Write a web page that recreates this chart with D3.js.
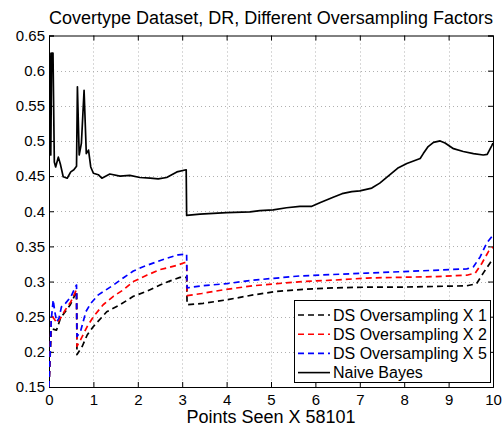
<!DOCTYPE html>
<html><head><meta charset="utf-8">
<script src="https://cdn.jsdelivr.net/npm/d3@7"></script>
<style>body{margin:0;background:#fff;} text{font-family:"Liberation Sans",Arial,Helvetica,sans-serif;}</style>
</head><body>
<svg id="c" width="504" height="429"></svg>
<script>
const title = "Covertype Dataset, DR, Different Oversampling Factors";
const xLabel = "Points Seen X 58101";
const xTicks = [0,1,2,3,4,5,6,7,8,9,10];
const yTicks = [0.15,0.2,0.25,0.3,0.35,0.4,0.45,0.5,0.55,0.6,0.65];
const seriesNames = ["DS Oversampling X 1","DS Oversampling X 2","DS Oversampling X 5","Naive Bayes"];
const seriesColors = ["#000000","#ff0000","#0000ff","#000000"];

const ds1 = [[0,0.15],[0.05,0.233],[0.17,0.231],[0.26,0.248],[0.48,0.267],[0.6,0.283],[0.62,0.286],[0.63,0.196],[0.75,0.208],[0.86,0.224],[1.0,0.236],[1.3,0.257],[1.6,0.267],[1.9,0.279],[2.2,0.286],[2.5,0.295],[2.73,0.301],[2.95,0.306],[3.1,0.306],[3.11,0.267],[3.47,0.269],[4.0,0.274],[4.6,0.281],[5.13,0.286],[5.73,0.289],[6.4,0.291],[7.16,0.292],[7.9,0.292],[8.66,0.293],[9.41,0.294],[9.63,0.297],[9.78,0.312],[9.93,0.326],[10.0,0.333]];
const ds2 = [[0,0.15],[0.05,0.245],[0.08,0.25],[0.18,0.241],[0.26,0.248],[0.37,0.26],[0.49,0.271],[0.6,0.286],[0.62,0.288],[0.63,0.208],[0.71,0.217],[0.86,0.236],[1.0,0.25],[1.22,0.267],[1.45,0.279],[1.67,0.288],[1.9,0.3],[2.2,0.309],[2.5,0.317],[2.88,0.323],[3.06,0.327],[3.1,0.327],[3.11,0.28],[3.44,0.283],[4.0,0.289],[4.6,0.294],[5.13,0.297],[5.73,0.3],[6.4,0.302],[7.16,0.305],[7.9,0.306],[8.66,0.307],[9.41,0.309],[9.6,0.312],[9.75,0.326],[9.9,0.343],[10.0,0.349]];
const ds5 = [[0,0.15],[0.05,0.245],[0.095,0.274],[0.13,0.257],[0.175,0.243],[0.225,0.248],[0.28,0.264],[0.37,0.269],[0.49,0.278],[0.6,0.293],[0.62,0.295],[0.63,0.222],[0.71,0.229],[0.83,0.257],[0.94,0.269],[1.11,0.281],[1.45,0.295],[1.67,0.305],[1.9,0.315],[2.12,0.321],[2.42,0.328],[2.65,0.333],[2.91,0.338],[3.1,0.339],[3.11,0.291],[3.44,0.294],[4.0,0.297],[4.6,0.302],[5.13,0.305],[5.65,0.308],[6.4,0.31],[7.16,0.312],[7.9,0.314],[8.66,0.316],[9.41,0.318],[9.56,0.321],[9.71,0.335],[9.86,0.355],[10.0,0.366]];
const naive = [[0,0.47],[0.02,0.625],[0.04,0.48],[0.06,0.625],[0.09,0.625],[0.12,0.47],[0.15,0.463],[0.21,0.477],[0.26,0.466],[0.32,0.449],[0.41,0.447],[0.49,0.456],[0.56,0.459],[0.62,0.464],[0.64,0.577],[0.68,0.48],[0.73,0.497],[0.79,0.572],[0.84,0.482],[0.89,0.487],[0.94,0.463],[1.0,0.454],[1.11,0.452],[1.19,0.447],[1.37,0.453],[1.6,0.45],[1.82,0.451],[2.05,0.448],[2.28,0.447],[2.46,0.446],[2.65,0.448],[2.88,0.456],[3.09,0.459],[3.1,0.394],[3.4,0.396],[4.0,0.398],[4.53,0.399],[4.75,0.401],[5.05,0.402],[5.35,0.405],[5.65,0.407],[5.92,0.407],[6.1,0.412],[6.4,0.42],[6.6,0.425],[6.82,0.428],[7.0,0.429],[7.27,0.433],[7.45,0.44],[7.68,0.452],[7.87,0.462],[8.06,0.468],[8.36,0.475],[8.43,0.482],[8.54,0.492],[8.66,0.498],[8.81,0.5],[8.92,0.497],[9.11,0.489],[9.33,0.485],[9.56,0.482],[9.78,0.48],[9.87,0.481],[9.97,0.493],[10.0,0.497]];

const seriesData = [ds1, ds2, ds5, naive];

const L = 49, R = 493, T = 35.5, B = 387;
const svg = d3.select("#c");
const x = d3.scaleLinear().domain([0,10]).range([L,R]);
const y = d3.scaleLinear().domain([0.15,0.65]).range([B,T]);

// grid
const grid = svg.append("g").attr("stroke","#b0b0b0").attr("stroke-width",1).attr("stroke-dasharray","1,3");
grid.selectAll("line.gx").data(xTicks.slice(1,-1)).join("line")
  .attr("x1",d=>Math.round(x(d))+0.5).attr("x2",d=>Math.round(x(d))+0.5).attr("y1",T).attr("y2",B);
grid.selectAll("line.gy").data(yTicks.slice(1,-1)).join("line")
  .attr("y1",d=>Math.round(y(d))+0.5).attr("y2",d=>Math.round(y(d))+0.5).attr("x1",L).attr("x2",R);

// axes
const fmtY = d3.format(".2~f");
const xAxis = d3.axisBottom(x).tickValues(xTicks).tickSize(-5).tickPadding(7).tickFormat(d3.format("d"));
const yAxis = d3.axisLeft(y).tickValues(yTicks).tickSize(-5).tickPadding(4).tickFormat(d=>fmtY(d));
const xTop = d3.axisTop(x).tickValues(xTicks).tickSize(-5).tickFormat("");
const yRight = d3.axisRight(y).tickValues(yTicks).tickSize(-5).tickFormat("");

function style(g){ g.selectAll("path,line").attr("stroke","#000"); g.selectAll("text").attr("fill","#000").style("font-size","15px").style("font-family","'Liberation Sans',Arial,sans-serif"); g.select(".domain").attr("stroke-width",1); }
svg.append("g").attr("transform",`translate(0,${B})`).call(xAxis).call(style);
svg.append("g").attr("transform",`translate(${L},0)`).call(yAxis).call(style);
svg.append("g").attr("transform",`translate(0,${T})`).call(xTop).call(style);
svg.append("g").attr("transform",`translate(${R},0)`).call(yRight).call(style);

// lines
const line = d3.line().x(d=>x(d[0])).y(d=>y(d[1]));
svg.append("clipPath").attr("id","pc").append("rect").attr("x",L).attr("y",T).attr("width",R-L).attr("height",B-T);
const lg = svg.append("g").attr("clip-path","url(#pc)");
seriesData.forEach((d,i)=>{
  lg.append("path").attr("d",line(d)).attr("fill","none")
    .attr("stroke",seriesColors[i]).attr("stroke-width",1.7)
    .attr("stroke-linejoin","round")
    .attr("stroke-dasharray", i<3 ? "6,4" : null);
});

// title & label
svg.append("text").attr("x",(L+R)/2).attr("y",24).attr("text-anchor","middle").style("font-size","18px").text(title);
svg.append("text").attr("x",(L+R)/2).attr("y",423).attr("text-anchor","middle").style("font-size","18px").text(xLabel);

// legend
const lx = 294, ly = 300, lw = 196, lh = 82;
const leg = svg.append("g");
leg.append("rect").attr("x",lx+0.5).attr("y",ly+0.5).attr("width",lw).attr("height",lh).attr("fill","#fff").attr("stroke","#000").attr("stroke-width",1);
seriesNames.forEach((n,i)=>{
  const yy = ly + 15 + i*19.2;
  leg.append("line").attr("x1",lx+4).attr("x2",lx+36).attr("y1",yy).attr("y2",yy)
    .attr("stroke",seriesColors[i]).attr("stroke-width",1.6).attr("stroke-dasharray", i<3 ? "6,4" : null);
  leg.append("text").attr("x",lx+39).attr("y",yy).attr("dy","0.35em").style("font-size","16px").text(n);
});
</script>
</body></html>
